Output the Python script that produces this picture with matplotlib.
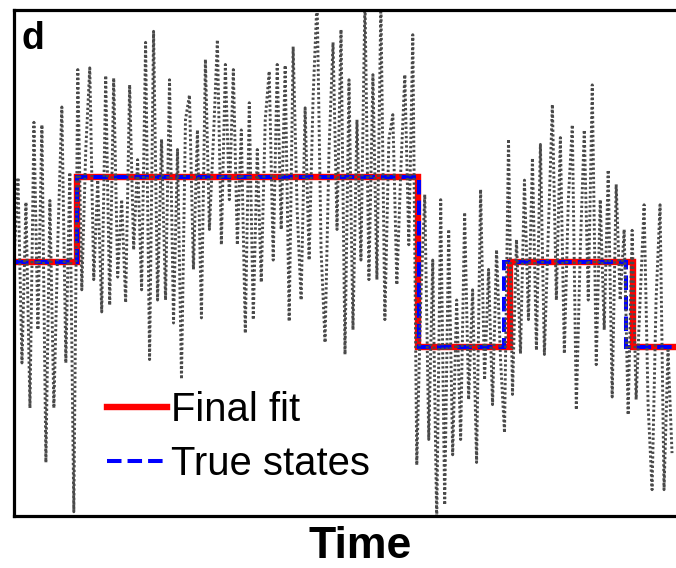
import matplotlib.pyplot as plt
import numpy as np

plt.rcParams['font.family'] = ['Liberation Sans', 'DejaVu Sans']

# noisy trace, one sample per frame (levels: low=1, mid=2, high=3)
trace_a = [2.02, 2.99, 0.81, 2.7, 0.28, 3.64, 1.2, 3.61, -0.36, 2.72, 0.28, 2.26,
           3.82, 0.81, 3.05, -0.94]
trace_b = [4.26, 1.67, 3.32, 4.28, 1.79, 2.96, 1.41, 4.19, 1.49, 4.16, 1.82, 2.73,
           1.52, 4.08, 2.14, 3.2, 1.67, 4.58, 0.85, 4.71, 1.55, 3.44, 1.55, 4.14,
           1.28, 3.32, 0.62, 3.67, 3.96, 1.91, 3.55, 1.34, 4.38, 2.38, 3.44, 4.61,
           2.2, 4.32, 2.73, 4.26, 2.2, 3.55, 1.16, 3.87, 1.32, 3.32, 1.76, 3.67,
           4.24, 2.02, 4.32, 2.38, 4.31, 1.3, 4.53, 2.61, 1.55, 3.81, 2.02, 3.93,
           5.1, 2.14, 1.05, 3.32, 4.58, 2.38, 4.73, 0.91, 4.14, 1.2, 3.67, 2.02,
           5.1, 1.79, 4.2, 1.79, 5.05, 1.32, 3.44, 3.73, 1.73, 3.08, 4.2, 2.2, 4.67]
trace_c = [-0.39, 1.55, 2.79, -0.09, 2.02, -1.05, 2.73, -0.86, 2.38, -0.27, 1.55,
           -0.09, 2.58, 0.38, 1.67, -0.36, 2.85, 0.61, 1.91, 0.32, 2.14, 0.85, -0.01]
trace_d = [3.44, 0.44, 2.26, 0.92, 2.96, 1.32, 3.22, 0.96, 3.38, 0.91, 2.38, 3.85,
           1.55, 3.46, 0.92, 2.73, 3.61, 0.26, 2.14, 3.55, 1.55, 4.08, 0.79, 2.73,
           1.2, 3.08, 0.41, 2.91, 1.55, 2.38, 0.2]
trace_e = [2.37, 0.38, 1.55, 2.67, 0.32, -0.68, 1.55, 2.67, -0.68, 0.96, -0.25]
signal = trace_a + trace_b + trace_c + trace_d + trace_e

# step models: edges in frames, one level per segment
fit_edges = [0, 15.75, 101.25, 124.25, 155.25, 166]
fit_levels = [2, 3, 1, 2, 1]
true_edges = [0, 15.75, 101.5, 122.75, 153.5, 166]
true_levels = [2, 3, 1, 2, 1]

fig = plt.figure(figsize=(6.76, 5.68), dpi=100)
ax = fig.add_axes([0.0207, 0.0915, 0.9793, 0.8908])

frames = np.arange(len(signal))
ax.plot(frames, signal, color='#4a4a4a', lw=2.1, linestyle=(0, (0.8, 0.8)))
ax.stairs(fit_levels, fit_edges, baseline=None, color='#ff0000', lw=4.6,
          label='Final fit')
ax.stairs(true_levels, true_edges, baseline=None, color='#0000ff', lw=2.9,
          linestyle=(0, (3.6, 1.5)), label='True states')

ax.set_xlim(0, 166)
ax.set_ylim(-0.99, 4.96)
ax.set_xticks([])
ax.set_yticks([])
ax.spines['right'].set_visible(False)
for side in ['left', 'top', 'bottom']:
    ax.spines[side].set_linewidth(2.3)

ax.text(0.012, 0.978, 'd', transform=ax.transAxes, fontsize=27,
        fontweight='bold', va='top', ha='left')
fig.text(0.5325, 0.001, 'Time', fontsize=32, fontweight='bold',
         ha='center', va='bottom')

leg = ax.legend(loc='upper left', bbox_to_anchor=(0.141, 0.248), frameon=False,
                fontsize=28.8, handlelength=1.5, handletextpad=0.1,
                borderpad=0, labelspacing=0.4, borderaxespad=0)

fig.savefig('out.png', dpi=100)
